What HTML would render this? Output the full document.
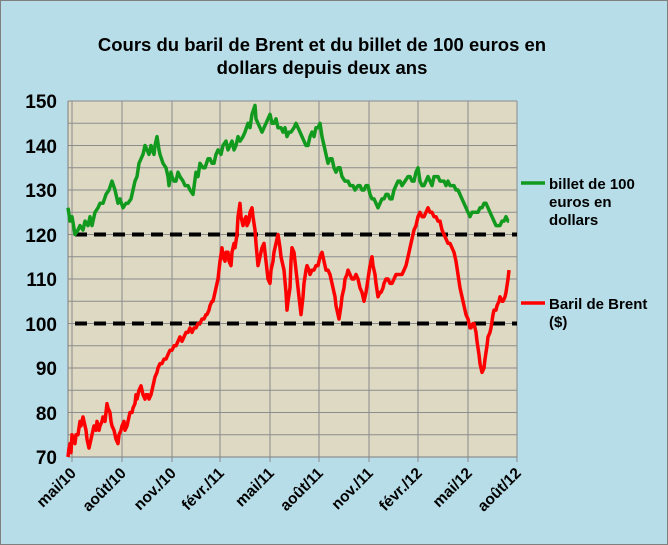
<!DOCTYPE html>
<html><head><meta charset="utf-8"><style>
body{margin:0;background:#fff}
svg{display:block}
text{font-family:"Liberation Sans",Arial,sans-serif;font-weight:bold;fill:#000}
</style></head><body>
<svg id="s" width="668" height="545" xmlns="http://www.w3.org/2000/svg">
<rect x="0.5" y="0.5" width="667" height="544" fill="#b7dde8" stroke="#7f7f7f"/>
<rect x="68" y="101" width="449" height="356" fill="#ddd9c3"/>
<g id="grid" stroke="#8c8c8c" stroke-width="1"></g>
<line x1="68" y1="101" x2="68" y2="457" stroke="#7f7f7f"/>
<line x1="68" y1="457" x2="517" y2="457" stroke="#7f7f7f"/>
<text x="322" y="51" font-size="18.5" text-anchor="middle">Cours du baril de Brent et du billet de 100 euros en</text>
<text x="322" y="74" font-size="18.5" text-anchor="middle">dollars depuis deux ans</text>
<g font-size="19" text-anchor="end">
<text x="57" y="108">150</text><text x="57" y="153">140</text><text x="57" y="197">130</text><text x="57" y="242">120</text><text x="57" y="286">110</text><text x="57" y="331">100</text><text x="57" y="375">90</text><text x="57" y="420">80</text><text x="57" y="464">70</text>
</g>
<g id="xl" font-size="15.5" text-anchor="end"></g>
<line x1="75" y1="234.5" x2="517" y2="234.5" stroke="#000" stroke-width="4" stroke-dasharray="12,7"/>
<line x1="75" y1="323.5" x2="517" y2="323.5" stroke="#000" stroke-width="4" stroke-dasharray="12,7"/>
<polyline id="g" fill="none" stroke="#119a1e" stroke-width="3.5" stroke-linejoin="round"/>
<polyline id="r" fill="none" stroke="#f00" stroke-width="3.5" stroke-linejoin="round"/>
<line x1="521" y1="183" x2="545" y2="183" stroke="#119a1e" stroke-width="3.5"/>
<line x1="521" y1="303" x2="545" y2="303" stroke="#f00" stroke-width="3.5"/>
<g font-size="15">
<text x="549" y="189">billet de 100</text><text x="549" y="207">euros en</text><text x="549" y="225">dollars</text>
<text x="549" y="309">Baril de Brent</text><text x="549" y="327">($)</text>
</g>
</svg>
<script>
function Y(v){return 457-(v-70)*4.45}
var grid=document.getElementById('grid'),h='';
for(var v=75;v<=150;v+=5)h+='<line x1="68" y1="'+Y(v)+'" x2="517" y2="'+Y(v)+'"/>';
var ticks=[72,122,172,220,270,319,369,418,468,517];
ticks.forEach(function(x){h+='<line x1="'+x+'" y1="101" x2="'+x+'" y2="462"/>'});
grid.innerHTML=h;
var labs=['mai/10','août/10','nov./10','févr./11','mai/11','août/11','nov./11','févr./12','mai/12','août/12'],xl='';
labs.forEach(function(l,i){var x=ticks[i]+5,y=474;xl+='<text x="'+x+'" y="'+y+'" transform="rotate(-45 '+x+' '+y+')">'+l+'</text>'});
document.getElementById('xl').innerHTML=xl;
var G=[[68,126],[70,123],[72,124],[75,120],[78,121],[80,122],[83,121],[85,123],[88,122],[90,124],[92,122],[95,125],[98,126],[100,127],[103,127],[106,129],[109,130],[112,132],[115,130],[118,127],[120,128],[123,126],[126,127],[128,127],[131,128],[133,130],[135,132],[137,133],[139,136],[141,137],[143,138],[145,140],[147,139],[149,138],[151,140],[152,139],[154,138],[155,140],[157,142],[159,139],[160,138],[163,136],[166,135],[168,133],[169,131],[171,134],[172,133],[174,132],[176,132],[178,134],[180,133],[183,132],[185,131],[188,131],[190,130],[193,129],[196,134],[198,133],[200,136],[203,135],[205,135],[208,137],[210,137],[212,136],[214,136],[216,138],[218,139],[221,138],[223,140],[226,141],[228,139],[230,140],[232,141],[234,139],[236,140],[238,142],[240,141],[243,142],[245,143],[248,145],[250,144],[252,147],[255,149],[256,146],[258,145],[260,144],[262,143],[264,144],[266,145],[268,146],[270,147],[272,145],[274,145],[276,146],[278,144],[281,144],[283,143],[285,144],[287,142],[289,143],[291,143],[294,144],[296,145],[298,144],[300,143],[302,142],[304,141],[306,140],[308,140],[310,142],[312,143],[314,142],[316,144],[318,144],[320,145],[322,142],[324,140],[326,138],[328,136],[330,137],[332,137],[334,135],[336,134],[338,135],[340,135],[342,133],[345,132],[348,132],[350,131],[353,131],[355,130],[358,131],[360,131],[362,130],[364,130],[366,131],[368,131],[370,129],[372,128],[374,128],[376,127],[378,126],[380,127],[382,128],[384,128],[386,129],[388,129],[390,128],[392,128],[394,130],[396,131],[398,132],[400,132],[402,131],[405,132],[408,133],[410,133],[412,132],[414,132],[416,134],[418,135],[420,132],[422,131],[424,131],[426,132],[428,133],[430,132],[432,131],[434,133],[436,133],[438,133],[440,132],[442,132],[444,132],[446,131],[448,132],[450,131],[452,131],[454,131],[456,130],[458,130],[460,129],[462,128],[464,127],[466,126],[468,125],[470,124],[472,125],[474,125],[476,125],[478,125],[480,126],[482,126],[484,127],[486,127],[488,126],[490,125],[492,124],[494,123],[496,122],[498,122],[500,122],[502,123],[504,123],[506,124],[508,123],[509,123]];
var R=[[68,70],[69,72],[70,73],[71,71],[72,75],[73,74],[75,73],[76,75],[78,75],[80,78],[81,77],[83,79],[84,78],[86,76],[87,74],[89,72],[90,73],[91,74],[93,76],[94,77],[96,76],[97,78],[99,76],[100,77],[102,78],[103,79],[105,78],[106,80],[107,82],[108,81],[110,80],[111,78],[112,77],[114,76],[116,74],[118,73],[119,75],[121,76],[122,77],[124,78],[125,76],[127,77],[129,79],[130,80],[132,80],[133,81],[135,82],[136,84],[137,83],[139,85],[141,86],[142,85],[143,84],[145,83],[146,84],[148,84],[149,83],[151,84],[152,85],[154,87],[155,88],[157,89],[158,90],[160,91],[162,91],[164,92],[166,92],[168,93],[170,94],[172,94],[174,95],[176,95],[178,96],[180,97],[182,96],[184,97],[186,98],[188,98],[190,99],[192,98],[194,99],[196,99],[198,100],[200,100],[202,101],[204,101],[206,102],[207,102],[209,103],[210,104],[212,105],[213,105],[215,107],[216,108],[218,110],[219,112],[220,114],[222,117],[223,115],[225,114],[226,116],[228,116],[229,114],[231,113],[232,116],[234,118],[235,117],[237,120],[238,124],[240,127],[241,124],[243,122],[244,123],[246,124],[247,122],[249,123],[250,125],[252,126],[253,124],[255,121],[256,118],[258,113],[259,114],[261,116],[262,117],[264,118],[265,116],[267,112],[268,110],[270,109],[271,112],[273,114],[274,116],[276,118],[277,119],[278,120],[280,117],[281,115],[283,113],[284,112],[286,107],[287,103],[288,105],[290,108],[291,114],[292,117],[294,116],[295,114],[297,110],[298,108],[300,104],[301,102],[303,106],[304,109],[306,112],[307,113],[309,112],[310,111],[312,112],[314,112],[316,113],[318,113],[320,115],[322,116],[324,114],[326,112],[328,112],[330,111],[332,109],[333,108],[335,106],[336,104],[338,102],[339,101],[341,104],[342,106],[344,108],[345,110],[347,111],[348,112],[350,111],[352,110],[354,110],[356,111],[358,110],[360,108],[362,107],[364,105],[366,107],[368,110],[370,113],[372,115],[373,113],[375,111],[376,109],[378,106],[380,107],[381,107],[383,108],[384,109],[386,110],[388,110],[390,109],[392,109],[394,110],[396,111],[398,111],[400,111],[402,111],[404,112],[406,113],[408,115],[410,117],[412,119],[414,121],[416,122],[418,124],[420,125],[422,124],[424,124],[426,125],[428,126],[430,125],[432,125],[434,124],[436,124],[438,123],[440,123],[442,121],[444,120],[446,119],[448,118],[450,118],[452,117],[454,116],[456,114],[458,111],[460,108],[462,106],[464,104],[466,102],[468,101],[470,99],[471,99],[473,100],[474,100],[476,98],[477,96],[479,93],[480,91],[482,89],[484,90],[485,92],[487,95],[488,97],[490,98],[491,99],[493,102],[494,103],[496,103],[497,104],[499,105],[500,106],[502,105],[503,105],[505,106],[506,107],[508,110],[509,112]];
function pts(a){return a.map(function(p){return p[0]+','+Y(p[1]).toFixed(1)}).join(' ')}
document.getElementById('g').setAttribute('points',pts(G));
document.getElementById('r').setAttribute('points',pts(R));
</script>
</body></html>
